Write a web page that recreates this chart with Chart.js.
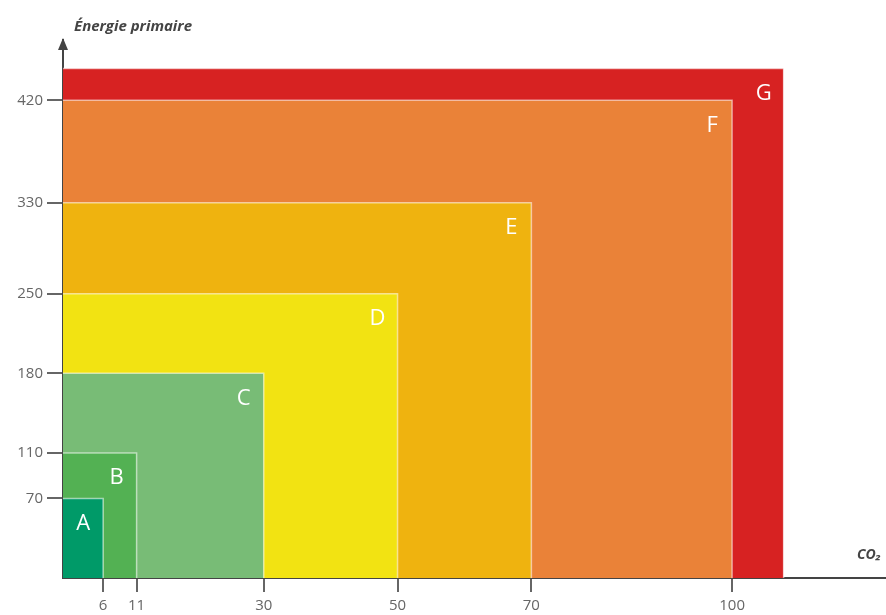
<!DOCTYPE html>
<html>
<head>
<meta charset="utf-8">
<script src="https://cdn.jsdelivr.net/npm/chart.js@4"></script>
<style>
  html, body { margin: 0; padding: 0; background: #fff; }
  #wrap { width: 886px; height: 615px; position: relative; }
</style>
</head>
<body>
<div id="wrap"><canvas id="chart"></canvas></div>
<script>
// energy label classes, each one a box from the origin
const grades = ['A', 'B', 'C', 'D', 'E', 'F', 'G'];
const co2Limits = [6, 11, 30, 50, 70, 100, 107.7];
const energyLimits = [70, 110, 180, 250, 330, 420, 448];
const gradeColors = ['#009a68', '#53b153', '#78bc76', '#f2e312', '#efb30f', '#ea8238', '#d72222'];
const xTicks = [6, 11, 30, 50, 70, 100];
const yTicks = [70, 110, 180, 250, 330, 420];

const datasets = grades.map((g, i) => ({
  label: g,
  data: [
    { x: 0, y: energyLimits[i] },
    { x: co2Limits[i], y: energyLimits[i] },
    { x: co2Limits[i], y: 0 }
  ],
  backgroundColor: gradeColors[i],
  borderColor: 'rgba(255, 255, 255, 0.55)',
  borderWidth: 1.5,
  fill: 'origin',
  pointRadius: 0,
  tension: 0
}));

// letters in the corner + arrow and axis names
const decor = {
  id: 'decor',
  afterDatasetsDraw(chart) {
    const { ctx, scales: { x, y } } = chart;
    ctx.save();
    ctx.fillStyle = '#fff';
    ctx.font = '22px "Open Sans", sans-serif';
    ctx.textAlign = 'center';
    ctx.textBaseline = 'middle';
    grades.forEach((g, i) => {
      ctx.fillText(g, x.getPixelForValue(co2Limits[i]) - 20, y.getPixelForValue(energyLimits[i]) + 25);
    });
    ctx.restore();
  },
  afterDraw(chart) {
    const { ctx, chartArea } = chart;
    ctx.save();
    ctx.fillStyle = '#444';
    ctx.beginPath();
    ctx.moveTo(chartArea.left, chartArea.top - 2);
    ctx.lineTo(chartArea.left - 5, chartArea.top + 10);
    ctx.lineTo(chartArea.left + 5, chartArea.top + 10);
    ctx.closePath();
    ctx.fill();

    ctx.font = 'italic bold 15px "Open Sans", sans-serif';
    ctx.textBaseline = 'alphabetic';
    ctx.textAlign = 'left';
    ctx.fillText('Énergie primaire', 74, 31);
    ctx.font = 'italic bold 14px "Open Sans", sans-serif';
    ctx.textAlign = 'right';
    ctx.fillText('CO₂', 881, 559);
    ctx.restore();
  }
};

new Chart(document.getElementById('chart'), {
  type: 'line',
  data: { datasets },
  options: {
    responsive: true,
    maintainAspectRatio: false,
    animation: false,
    layout: { padding: { top: 40, right: 0, left: 0, bottom: 0 } },
    plugins: {
      legend: { display: false },
      tooltip: { enabled: false }
    },
    scales: {
      x: {
        type: 'linear',
        min: 0,
        max: 123,
        afterBuildTicks: s => { s.ticks = xTicks.map(v => ({ value: v })); },
        afterFit: s => { s.height = 37; },
        grid: { display: true, drawOnChartArea: false, drawTicks: true, tickLength: 14, color: '#666', lineWidth: 2 },
        border: { display: true, color: '#444', width: 2 },
        ticks: { color: '#666', font: { family: 'Open Sans', size: 15 }, padding: 5, maxRotation: 0, autoSkip: false }
      },
      y: {
        type: 'linear',
        min: 0,
        max: 473,
        afterBuildTicks: s => { s.ticks = yTicks.map(v => ({ value: v })); },
        afterFit: s => { s.width = 63; },
        grid: { display: true, drawOnChartArea: false, drawTicks: true, tickLength: 16, color: '#666', lineWidth: 2 },
        border: { display: true, color: '#444', width: 2 },
        ticks: { color: '#666', font: { family: 'Open Sans', size: 15 }, padding: 4, autoSkip: false }
      }
    }
  },
  plugins: [decor]
});
</script>
</body>
</html>
